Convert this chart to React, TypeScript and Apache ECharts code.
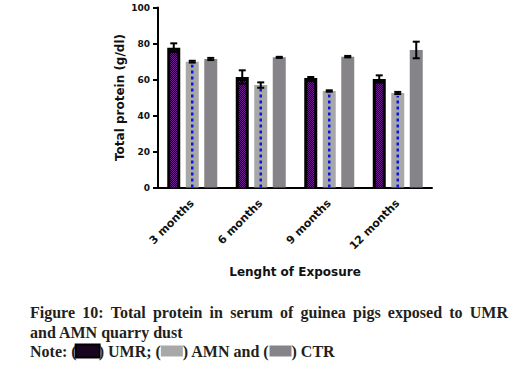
import React, { useEffect, useRef } from "react";
import * as echarts from "echarts";

const categories = ["3 months", "6 months", "9 months", "12 months"];
const umrValues = [77.7, 61.4, 60.8, 60.3];
const umrErrors = [2.4, 3.7, 0.6, 2.0];
const amnValues = [69.9, 56.9, 53.6, 52.5];
const amnErrors = [0.5, 1.5, 0.4, 0.6];
const ctrValues = [71.4, 72.3, 72.7, 76.4];
const ctrErrors = [0.6, 0.3, 0.4, 4.6];
const yTicks = { min: 0, max: 100, interval: 20 };
const captionLine1 = "Figure 10: Total protein in serum of guinea pigs exposed to UMR";
const captionLine2 = "and AMN quarry dust";
const captionNote = "Note: ({a| }) UMR; ({b| }) AMN and ({c| }) CTR";

const BAR_W = 13;
const GAP = 5.5;
const OFFSETS = [-(BAR_W + GAP), 0, BAR_W + GAP];
const CAPTION_FONT = "bold 16px 'Liberation Serif'";

function makeChecker(): string | null {
  try {
    const c = document.createElement("canvas");
    c.width = 2;
    c.height = 2;
    const ctx = c.getContext("2d");
    if (!ctx) return null;
    ctx.fillStyle = "#000000";
    ctx.fillRect(0, 0, 2, 2);
    ctx.fillStyle = "#6d1a8c";
    ctx.fillRect(0, 0, 1, 1);
    ctx.fillRect(1, 1, 1, 1);
    return c.toDataURL();
  } catch (e) {
    return null;
  }
}

function justifiedWords(text: string, left: number, right: number, top: number): any[] {
  const words = text.split(" ");
  const c = document.createElement("canvas");
  const ctx = c.getContext("2d");
  let widths = words.map((w) => w.length * 8);
  if (ctx) {
    ctx.font = CAPTION_FONT;
    widths = words.map((w) => ctx.measureText(w).width);
  }
  const total = widths.reduce((a, b) => a + b, 0);
  const gap = (right - left - total) / (words.length - 1);
  let x = left;
  return words.map((w, i) => {
    const el = {
      type: "text",
      x,
      y: top,
      style: { text: w, font: CAPTION_FONT, fill: "#231f20" },
    };
    x += widths[i] + gap;
    return el;
  });
}

export default function App() {
  const ref = useRef<HTMLDivElement>(null);
  useEffect(() => {
    if (!ref.current) return;
    const chart = echarts.init(ref.current, undefined, { renderer: "svg" });
    const checker = makeChecker();
    const umrFill: any = checker
      ? { image: checker, repeat: "repeat", imageWidth: 2, imageHeight: 2 }
      : "#3f0d4f";

    const errSeries = (vals: number[], errs: number[], off: number, name: string) => ({
      type: "custom",
      name,
      z: 5,
      silent: true,
      data: vals.map((v, i) => [i, v, errs[i]]),
      renderItem: (params: any, api: any) => {
        const i = api.value(0);
        const v = api.value(1);
        const e = api.value(2);
        const x = api.coord([i, 0])[0] + off;
        const yt = api.coord([i, v + e])[1];
        const yb = api.coord([i, v - e])[1];
        const st = { stroke: "#000", lineWidth: 2 };
        return {
          type: "group",
          children: [
            { type: "line", shape: { x1: x, y1: yt, x2: x, y2: yb }, style: st },
            { type: "line", shape: { x1: x - 3.5, y1: yt, x2: x + 3.5, y2: yt }, style: st },
            { type: "line", shape: { x1: x - 3.5, y1: yb, x2: x + 3.5, y2: yb }, style: st },
          ],
        };
      },
    });

    const labelFont = "DejaVu Sans";
    chart.setOption({
      animation: false,
      grid: { left: 158, top: 7.5, width: 274, height: 180, containLabel: false },
      xAxis: {
        type: "category",
        data: categories,
        name: "Lenght of Exposure",
        nameLocation: "middle",
        nameGap: 78,
        nameMoveOverlap: false,
        nameTextStyle: { fontFamily: labelFont, fontWeight: "bold", fontSize: 12, color: "#111" },
        axisLine: { lineStyle: { color: "#000", width: 2 } },
        axisTick: { alignWithLabel: true, length: 5, lineStyle: { color: "#000", width: 2 } },
        axisLabel: {
          rotate: 45,
          margin: 14,
          fontFamily: labelFont,
          fontWeight: "bold",
          fontSize: 11,
          color: "#111",
        },
      },
      yAxis: {
        type: "value",
        min: yTicks.min,
        max: yTicks.max,
        interval: yTicks.interval,
        name: "Total protein (g/dl)",
        nameLocation: "middle",
        nameGap: 32,
        nameMoveOverlap: false,
        nameTextStyle: { fontFamily: labelFont, fontWeight: "bold", fontSize: 12, color: "#111" },
        axisLine: { show: true, lineStyle: { color: "#000", width: 2 } },
        axisTick: { show: true, length: 5, lineStyle: { color: "#000", width: 2 } },
        splitLine: { show: false },
        axisLabel: { fontFamily: labelFont, fontWeight: "bold", fontSize: 9, color: "#111", margin: 8 },
      },
      series: [
        {
          type: "bar",
          name: "UMR",
          data: umrValues,
          barWidth: BAR_W,
          barGap: (GAP / BAR_W) * 100 + "%",
          itemStyle: { color: "#000" },
          z: 2,
        },
        {
          type: "bar",
          name: "AMN",
          data: amnValues,
          barWidth: BAR_W,
          barGap: (GAP / BAR_W) * 100 + "%",
          itemStyle: { color: "#a8a8a8" },
          z: 2,
        },
        {
          type: "bar",
          name: "CTR",
          data: ctrValues,
          barWidth: BAR_W,
          barGap: (GAP / BAR_W) * 100 + "%",
          itemStyle: { color: "#868489" },
          z: 2,
        },
        {
          type: "custom",
          name: "UMR pattern",
          z: 3,
          silent: true,
          data: umrValues.map((v, i) => [i, v]),
          renderItem: (params: any, api: any) => {
            const i = api.value(0);
            const v = api.value(1);
            const x = api.coord([i, 0])[0] + OFFSETS[0];
            const y0 = api.coord([i, 0])[1];
            const y1 = api.coord([i, v])[1] + 4;
            return {
              type: "rect",
              shape: { x: x - 3.5, y: y1, width: 7, height: y0 - y1 },
              style: { fill: umrFill },
            };
          },
        },
        {
          type: "custom",
          name: "AMN pattern",
          z: 3,
          silent: true,
          data: amnValues.map((v, i) => [i, v]),
          renderItem: (params: any, api: any) => {
            const i = api.value(0);
            const v = api.value(1);
            const x = api.coord([i, 0])[0] + OFFSETS[1];
            const y0 = api.coord([i, 0])[1];
            const y1 = api.coord([i, v])[1] + 3;
            return {
              type: "line",
              shape: { x1: x, y1: y0, x2: x, y2: y1 },
              style: { stroke: "#0a14e6", lineWidth: 2.5, lineDash: [3, 3] },
            };
          },
        },
        errSeries(umrValues, umrErrors, OFFSETS[0], "UMR err"),
        errSeries(amnValues, amnErrors, OFFSETS[1], "AMN err"),
        errSeries(ctrValues, ctrErrors, OFFSETS[2], "CTR err"),
      ],
      graphic: [
        ...justifiedWords(captionLine1, 30, 508, 304),
        {
          type: "text",
          x: 30,
          y: 324,
          style: { text: captionLine2, font: CAPTION_FONT, fill: "#231f20" },
        },
        {
          type: "text",
          x: 30,
          y: 343,
          style: {
            text: captionNote,
            font: CAPTION_FONT,
            fill: "#231f20",
            rich: {
              a: { width: 22, height: 11, backgroundColor: "#1a0520", borderColor: "#000", borderWidth: 2 },
              b: { width: 22, height: 11, backgroundColor: "#a8a8a8" },
              c: { width: 22, height: 11, backgroundColor: "#868489" },
            },
          },
        },
      ],
    });
    return () => chart.dispose();
  }, []);
  return (
    <div
      ref={ref}
      style={{ position: "absolute", left: 0, top: 0, width: 524, height: 369, background: "#fff" }}
    />
  );
}
